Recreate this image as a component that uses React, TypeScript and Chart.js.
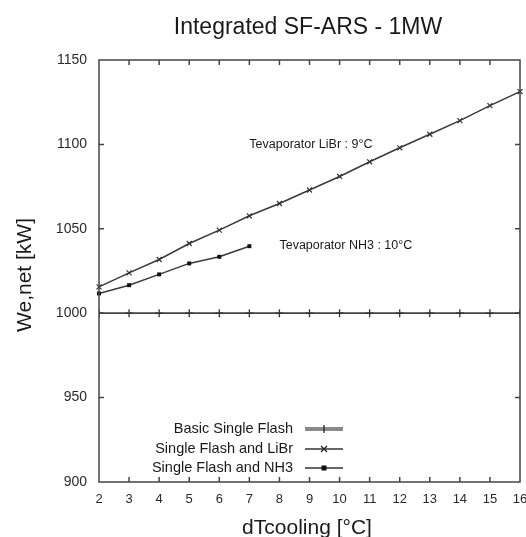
import React, { useEffect, useRef } from "react";
import { Chart, registerables } from "chart.js";
Chart.register(...registerables);

const chartTitle = "Integrated SF-ARS - 1MW";
const xAxisTitle = "dTcooling [°C]";
const yAxisTitle = "We,net [kW]";

const xValues = [2, 3, 4, 5, 6, 7, 8, 9, 10, 11, 12, 13, 14, 15, 16];
const basicSingleFlash = [1000, 1000, 1000, 1000, 1000, 1000, 1000, 1000, 1000, 1000, 1000, 1000, 1000, 1000, 1000];
const singleFlashLiBr = [1015.6, 1023.9, 1031.8, 1041.3, 1049.2, 1057.7, 1065.0, 1073.0, 1081.0, 1089.7, 1098.0, 1106.0, 1114.1, 1123.0, 1131.3];
const nh3X = [2, 3, 4, 5, 6, 7];
const singleFlashNH3 = [1011.7, 1016.6, 1023.0, 1029.5, 1033.4, 1039.7];

const seriesLabels = ["Basic Single Flash", "Single Flash and LiBr", "Single Flash and NH3"];
const yTickValues = [900, 950, 1000, 1050, 1100, 1150];

const noteTexts = ["Tevaporator LiBr : 9°C", "Tevaporator NH3 : 10°C"];
const noteX = [7, 8];
const noteY = [1100, 1040];

const FONT = "'Liberation Sans', Arial, sans-serif";
const INK = "#2a2a2a";

const decorPlugin = {
  id: "decor",
  afterDraw(chart: any) {
    const ctx = chart.ctx as CanvasRenderingContext2D;
    const { left, right, top, bottom } = chart.chartArea;
    const xs = chart.scales.x;
    const ys = chart.scales.y;
    ctx.save();
    // frame
    ctx.strokeStyle = "#444";
    ctx.lineWidth = 1.5;
    ctx.strokeRect(left, top, right - left, bottom - top);
    // inward ticks
    ctx.beginPath();
    xs.ticks.forEach((t: any) => {
      const px = xs.getPixelForValue(t.value);
      if (px <= left + 1 || px >= right - 1) return;
      ctx.moveTo(px, bottom);
      ctx.lineTo(px, bottom - 5);
      ctx.moveTo(px, top);
      ctx.lineTo(px, top + 5);
    });
    ys.ticks.forEach((t: any) => {
      const py = ys.getPixelForValue(t.value);
      if (py <= top + 1 || py >= bottom - 1) return;
      ctx.moveTo(left, py);
      ctx.lineTo(left + 5, py);
      ctx.moveTo(right, py);
      ctx.lineTo(right - 5, py);
    });
    ctx.stroke();

    // title
    ctx.fillStyle = "#1a1a1a";
    ctx.textAlign = "center";
    ctx.textBaseline = "middle";
    ctx.font = `23px ${FONT}`;
    ctx.fillText(chartTitle, 308, 28);
    // x axis title
    ctx.font = `21px ${FONT}`;
    ctx.fillText(xAxisTitle, 307, 528);
    // y axis title
    ctx.save();
    ctx.translate(25, 275);
    ctx.rotate(-Math.PI / 2);
    ctx.fillText(yAxisTitle, 0, 0);
    ctx.restore();

    // annotations
    ctx.font = `12.5px ${FONT}`;
    ctx.fillStyle = "#1a1a1a";
    ctx.textAlign = "left";
    noteTexts.forEach((txt, i) => {
      ctx.fillText(txt, xs.getPixelForValue(noteX[i]), ys.getPixelForValue(noteY[i]));
    });

    // legend
    const rowsY = [429, 449, 468];
    const textRight = 293;
    const sx0 = 305;
    const sx1 = 343;
    const sxm = (sx0 + sx1) / 2;
    ctx.font = `14.5px ${FONT}`;
    ctx.textAlign = "right";
    chart.data.datasets.forEach((ds: any, i: number) => {
      const y = rowsY[i];
      ctx.fillStyle = "#1a1a1a";
      ctx.fillText(ds.label, textRight, y);
      ctx.beginPath();
      if (i === 0) {
        ctx.strokeStyle = "#8a8a8a";
        ctx.lineWidth = 4;
      } else {
        ctx.strokeStyle = "#333";
        ctx.lineWidth = 1.3;
      }
      ctx.moveTo(sx0, y);
      ctx.lineTo(sx1, y);
      ctx.stroke();
      ctx.strokeStyle = "#222";
      ctx.fillStyle = "#111";
      ctx.lineWidth = 1.3;
      ctx.beginPath();
      if (i === 0) {
        ctx.moveTo(sxm, y - 4);
        ctx.lineTo(sxm, y + 4);
        ctx.stroke();
      } else if (i === 1) {
        ctx.moveTo(sxm - 3, y - 3);
        ctx.lineTo(sxm + 3, y + 3);
        ctx.moveTo(sxm - 3, y + 3);
        ctx.lineTo(sxm + 3, y - 3);
        ctx.stroke();
      } else {
        ctx.fillRect(sxm - 2.5, y - 2.5, 5, 5);
      }
    });
    ctx.restore();
  },
};

export default function App() {
  const ref = useRef<HTMLCanvasElement | null>(null);
  useEffect(() => {
    if (!ref.current) return;
    const chart = new Chart(ref.current, {
      type: "line",
      data: {
        datasets: [
          {
            label: seriesLabels[0],
            data: xValues.map((x, i) => ({ x, y: basicSingleFlash[i] })),
            borderColor: "#444",
            borderWidth: 1.8,
            pointStyle: "cross",
            pointRadius: 4,
            pointBorderWidth: 1.3,
            pointBorderColor: "#333",
            pointBackgroundColor: "#333",
          },
          {
            label: seriesLabels[1],
            data: xValues.map((x, i) => ({ x, y: singleFlashLiBr[i] })),
            borderColor: "#3a3a3a",
            borderWidth: 1.5,
            pointStyle: "crossRot",
            pointRadius: 3.5,
            pointBorderWidth: 1.2,
            pointBorderColor: "#333",
            pointBackgroundColor: "#333",
            clip: 6,
          },
          {
            label: seriesLabels[2],
            data: nh3X.map((x, i) => ({ x, y: singleFlashNH3[i] })),
            borderColor: "#3a3a3a",
            borderWidth: 1.5,
            pointStyle: "rect",
            pointRadius: 2.8,
            pointBorderWidth: 0,
            pointBorderColor: "#111",
            pointBackgroundColor: "#111",
            clip: 6,
          },
        ],
      },
      options: {
        animation: false,
        responsive: false,
        devicePixelRatio: 1,
        layout: { padding: { top: 60, right: 6, bottom: 0, left: 0 } },
        plugins: { legend: { display: false }, title: { display: false }, tooltip: { enabled: false } },
        elements: { line: { tension: 0 } },
        scales: {
          x: {
            type: "linear",
            min: 2,
            max: 16,
            grid: { display: false, drawTicks: false },
            border: { display: false },
            ticks: {
              stepSize: 1,
              padding: 10,
              color: INK,
              font: { family: FONT, size: 13 },
              maxRotation: 0,
              callback: (v: any) => String(v),
            },
            afterFit: (s: any) => {
              s.height = 55;
              s.paddingLeft = 0;
              s.paddingRight = 0;
            },
          },
          y: {
            type: "linear",
            min: 900,
            max: 1150,
            grid: { display: false, drawTicks: false },
            border: { display: false },
            afterBuildTicks: (s: any) => {
              s.ticks = yTickValues.map((v) => ({ value: v }));
            },
            ticks: {
              padding: 12,
              color: INK,
              font: { family: FONT, size: 14 },
              callback: (v: any) => String(v),
            },
            afterFit: (s: any) => {
              s.width = 99;
              s.paddingTop = 0;
              s.paddingBottom = 0;
            },
          },
        },
      },
      plugins: [decorPlugin],
    });
    return () => chart.destroy();
  }, []);
  return (
    <div style={{ position: "fixed", left: 0, top: 0, width: 526, height: 537, background: "#fff" }}>
      <canvas ref={ref} width={526} height={537} style={{ width: 526, height: 537 }} />
    </div>
  );
}
